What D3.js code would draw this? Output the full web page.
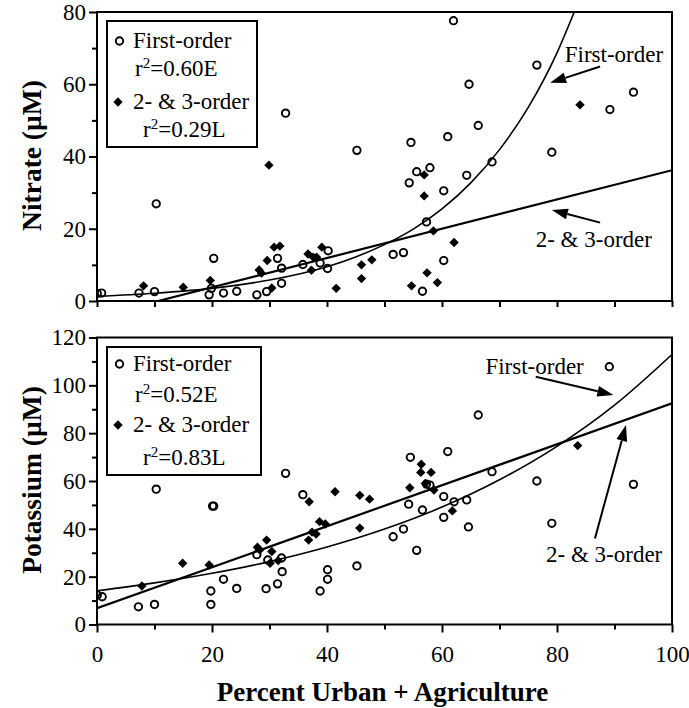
<!DOCTYPE html>
<html><head><meta charset="utf-8">
<script src="https://cdn.jsdelivr.net/npm/d3@7"></script>
<style>
body{margin:0;background:#fff}
svg{display:block}
svg text{font-family:"Liberation Serif","Tinos","Times New Roman","DejaVu Serif",serif !important;fill:#000}
</style>
</head><body>
<svg id="chart" width="689" height="708"></svg>
<script>
// ---------- data ----------
const xTicks = [0, 20, 40, 60, 80, 100];
const xMinorTicks = [10, 30, 50, 70, 90];
const nitrateTicks = [0, 20, 40, 60, 80];
const nitrateMinor = [10, 30, 50, 70];
const potassiumTicks = [0, 20, 40, 60, 80, 100, 120];
const potassiumMinor = [10, 30, 50, 70, 90, 110];

// Nitrate (µM) vs percent urban + agriculture
const nitrateFirstOrder = [
  [0.05,2.1],[0.8,2.2],[7.3,2.2],[10.0,2.6],[10.3,26.9],[20.3,11.8],[19.9,3.5],[19.5,1.7],
  [22.0,2.2],[24.3,2.7],[27.8,1.7],[29.5,2.6],[32.1,4.9],[31.4,11.8],[32.1,9.1],[32.8,52.0],
  [35.8,10.1],[38.8,10.5],[40.2,13.9],[40.1,9.0],[45.2,41.7],[51.5,12.9],[53.3,13.4],[54.6,43.9],
  [61.0,45.5],[66.3,48.6],[55.6,35.8],[57.9,36.9],[54.3,32.7],[60.3,30.5],[64.3,34.8],[68.7,38.5],
  [57.3,21.9],[60.3,11.2],[56.6,2.7],[62.0,77.6],[76.5,65.3],[64.7,60.0],[93.3,57.8],[89.2,53.0],
  [79.1,41.2]
];
const nitrateHigherOrder = [
  [8.1,4.2],[15.0,3.8],[19.7,5.7],[29.9,37.6],[30.8,14.9],[31.8,15.2],[29.6,11.2],[28.2,8.6],
  [28.6,7.7],[30.4,3.6],[36.7,13.0],[37.6,12.1],[38.2,12.1],[39.1,14.9],[37.3,8.5],[41.6,3.5],
  [46.0,10.0],[46.0,6.2],[47.8,11.4],[56.9,34.9],[56.9,29.1],[58.5,19.4],[62.1,16.2],[57.4,7.8],
  [59.2,5.1],[54.7,4.2],[84.0,54.3]
];
// fitted curves
const nitrateFirstFit = [[0,1.3],[10,2.15],[20,3.5],[30,5.8],[40,9.5],[45,12.2],[50,15.6],[55,19.9],
  [60,25.5],[65,32.7],[70,41.9],[75,53.6],[80,68.7],[83.0,80]];
const nitrateHigherFit = [[10.6,0],[100,36.2]];

// Potassium (µM)
const potassiumFirstOrder = [
  [0.05,12.3],[0.9,11.6],[7.2,7.4],[10.0,8.4],[10.3,56.6],[20.1,49.5],[20.3,49.5],[19.8,14.0],
  [19.8,8.4],[22.0,18.9],[24.3,15.1],[27.8,29.2],[29.4,15.0],[29.7,27.0],[31.4,17.0],[32.1,27.8],
  [32.2,22.1],[32.8,63.2],[35.8,54.3],[38.8,14.0],[40.1,22.9],[40.1,18.9],[45.2,24.5],[51.5,36.7],
  [53.3,39.9],[54.5,69.9],[61.0,72.3],[54.2,50.3],[57.3,58.7],[57.9,58.3],[56.6,47.9],[60.3,53.5],
  [62.1,51.3],[64.3,52.1],[68.7,63.9],[60.3,44.8],[64.6,40.8],[55.6,31.0],[66.3,87.6],[89.1,107.8],
  [76.5,60.0],[93.3,58.6],[79.1,42.3]
];
const potassiumHigherOrder = [
  [7.8,16.1],[14.9,25.6],[19.5,24.9],[27.9,32.3],[28.3,31.2],[29.5,35.3],[30.4,30.5],[30.1,25.6],
  [31.5,26.7],[36.9,51.3],[36.8,35.3],[37.4,38.6],[38.1,37.8],[38.7,43.0],[39.7,42.0],[41.4,55.5],
  [45.7,54.0],[47.4,52.4],[45.7,40.3],[54.4,57.2],[56.4,67.0],[56.3,63.6],[58.1,63.6],[57.1,59.0],
  [58.6,56.2],[61.8,47.5],[83.6,74.8]
];
const potassiumFirstFit = [[0,14.1],[10,17.4],[20,21.4],[30,26.3],[40,32.4],[50,39.9],[60,49.1],
  [70,60.5],[80,74.5],[90,91.7],[100,112.9]];
const potassiumHigherFit = [[0,6.8],[100,92.5]];

const nitrateLegend = ["First-order", "0.60E", "2- & 3-order", "0.29L"];
const potassiumLegend = ["First-order", "0.52E", "2- & 3-order", "0.83L"];

// annotations: [label, textX, textY, arrowFromX, arrowFromY, arrowToX, arrowToY]
const nitrateNotes = [
  ["First-order", 89.9, 66.2, 87.5, 64.9, 78.8, 60.4],
  ["2- & 3-order", 86.4, 14.9, 87.5, 21.7, 79.1, 25.2]
];
const potassiumNotes = [
  ["First-order", 76.1, 104.7, 76.3, 103.6, 89.8, 96.0],
  ["2- & 3-order", 88.2, 26.1, 86.6, 36.0, 92.0, 83.4]
];

// ---------- drawing ----------
const FONT = '"Liberation Serif","Tinos","Times New Roman","DejaVu Serif",serif';
const svg = d3.select("#chart");
const x = d3.scaleLinear().domain([0, 100]).range([97, 672]);

const panels = [
  {id: "n", title: "Nitrate (\u00B5M)", domain: [0, 80], range: [301, 12], ticks: nitrateTicks, minor: nitrateMinor,
   first: nitrateFirstOrder, higher: nitrateHigherOrder, firstFit: nitrateFirstFit, higherFit: nitrateHigherFit,
   legend: nitrateLegend, legendBox: [107, 21, 150, 126], legendRows: [48, 76, 109, 137], notes: nitrateNotes, xLabels: false},
  {id: "k", title: "Potassium (\u00B5M)", domain: [0, 120], range: [624.5, 337.5], ticks: potassiumTicks, minor: potassiumMinor,
   first: potassiumFirstOrder, higher: potassiumHigherOrder, firstFit: potassiumFirstFit, higherFit: potassiumHigherFit,
   legend: potassiumLegend, legendBox: [107, 347, 154, 128], legendRows: [371, 402, 432, 465], notes: potassiumNotes, xLabels: true}
];

const diamond = d3.symbol().type(d3.symbolSquare).size(44);
const TICKFS = 23, TXTFS = 23, TITLEFS = 27.5;

panels.forEach(p => {
  const y = d3.scaleLinear().domain(p.domain).range(p.range);
  const g = svg.append("g").attr("font-family", FONT);

  g.append("clipPath").attr("id", "clip-" + p.id)
    .append("rect").attr("x", x(0)).attr("y", y(p.domain[1])).attr("width", x(100) - x(0)).attr("height", y(0) - y(p.domain[1]));

  const ya = g.append("g").attr("transform", `translate(${x(0)},0)`)
    .call(d3.axisLeft(y).tickValues(p.ticks).tickSizeInner(8).tickSizeOuter(0).tickPadding(3).tickFormat(d3.format("d")));
  ya.attr("font-family", FONT).attr("font-size", TICKFS);
  ya.select(".domain").remove();
  ya.selectAll("line").attr("stroke-width", 2);
  const ym = g.append("g").attr("transform", `translate(${x(0)},0)`)
    .call(d3.axisLeft(y).tickValues(p.minor).tickSize(5).tickFormat(""));
  ym.select(".domain").remove();
  ym.selectAll("line").attr("stroke-width", 2);

  const xa = g.append("g").attr("transform", `translate(0,${y(0)})`)
    .call(d3.axisBottom(x).tickValues(p.xLabels ? xTicks : xTicks.concat(xMinorTicks)).tickSizeInner(p.xLabels ? 8 : 6).tickSizeOuter(0).tickPadding(13)
      .tickFormat(p.xLabels ? d3.format("d") : ""));
  xa.attr("font-family", FONT).attr("font-size", TICKFS);
  xa.select(".domain").remove();
  xa.selectAll("line").attr("stroke-width", 2);
  if (p.xLabels) {
    const xm = g.append("g").attr("transform", `translate(0,${y(0)})`)
      .call(d3.axisBottom(x).tickValues(xMinorTicks).tickSize(5).tickFormat(""));
    xm.select(".domain").remove();
    xm.selectAll("line").attr("stroke-width", 2);
  }

  g.append("rect").attr("x", x(0)).attr("y", y(p.domain[1]))
    .attr("width", x(100) - x(0)).attr("height", y(0) - y(p.domain[1]))
    .attr("fill", "none").attr("stroke", "#000").attr("stroke-width", 2);

  g.append("text")
    .attr("transform", `translate(31,${(y(0) + y(p.domain[1])) / 2 - 1}) rotate(-90)`)
    .attr("text-anchor", "middle").attr("dominant-baseline", "central")
    .style("font-size", TITLEFS + "px").style("font-weight", "bold").text(p.title);

  const line = d3.line().x(d => x(d[0])).y(d => y(d[1]));
  const plot = g.append("g").attr("clip-path", `url(#clip-${p.id})`);
  plot.append("path").datum(p.higherFit).attr("d", line)
    .attr("fill", "none").attr("stroke", "#000").attr("stroke-width", 2.2);
  plot.append("path").datum(p.firstFit).attr("d", line.curve(d3.curveMonotoneX))
    .attr("fill", "none").attr("stroke", "#000").attr("stroke-width", 1.6);

  plot.selectAll(".dia").data(p.higher).join("path")
    .attr("transform", d => `translate(${x(d[0])},${y(d[1])}) rotate(45)`)
    .attr("d", diamond).attr("fill", "#000");
  plot.selectAll(".cir").data(p.first).join("circle")
    .attr("cx", d => x(d[0])).attr("cy", d => y(d[1])).attr("r", 3.7)
    .attr("fill", "none").attr("stroke", "#000").attr("stroke-width", 1.9);

  const [lx, ly, lw, lh] = p.legendBox;
  const lg = g.append("g");
  lg.append("rect").attr("x", lx).attr("y", ly).attr("width", lw).attr("height", lh)
    .attr("fill", "#fff").attr("stroke", "#000").attr("stroke-width", 2);
  const r = p.legendRows;
  lg.append("circle").attr("cx", lx + 12.5).attr("cy", r[0] - 7).attr("r", 3.7)
    .attr("fill", "none").attr("stroke", "#000").attr("stroke-width", 1.9);
  lg.append("text").attr("x", lx + 26).attr("y", r[0]).style("font-size", TXTFS + "px").text(p.legend[0]);
  const t1 = lg.append("text").attr("x", lx + 28).attr("y", r[1]).style("font-size", TXTFS + "px");
  t1.append("tspan").text("r");
  t1.append("tspan").attr("dy", -8).style("font-size", "15px").text("2");
  t1.append("tspan").attr("dy", 8).text("=" + p.legend[1]);
  lg.append("path").attr("transform", `translate(${lx + 11},${r[2] - 7}) rotate(45)`).attr("d", diamond).attr("fill", "#000");
  lg.append("text").attr("x", lx + 26).attr("y", r[2]).style("font-size", TXTFS + "px").text(p.legend[2]);
  const t2 = lg.append("text").attr("x", lx + 36).attr("y", r[3]).style("font-size", TXTFS + "px");
  t2.append("tspan").text("r");
  t2.append("tspan").attr("dy", -8).style("font-size", "15px").text("2");
  t2.append("tspan").attr("dy", 8).text("=" + p.legend[3]);

  p.notes.forEach(n => {
    g.append("text").attr("x", x(n[1])).attr("y", y(n[2])).attr("text-anchor", "middle")
      .style("font-size", TXTFS + "px").text(n[0]);
    const x1 = x(n[3]), y1 = y(n[4]), x2 = x(n[5]), y2 = y(n[6]);
    const ang = Math.atan2(y2 - y1, x2 - x1);
    const hl = 16, hw = 5.5;
    const bx = x2 - hl * Math.cos(ang), by = y2 - hl * Math.sin(ang);
    g.append("line").attr("x1", x1).attr("y1", y1).attr("x2", bx).attr("y2", by)
      .attr("stroke", "#000").attr("stroke-width", 2);
    const px = -Math.sin(ang) * hw, py = Math.cos(ang) * hw;
    g.append("path").attr("d", `M${x2},${y2}L${bx + px},${by + py}L${bx - px},${by - py}Z`).attr("fill", "#000");
  });
});

svg.append("text").attr("font-family", FONT).attr("x", (x(0) + x(100)) / 2 - 2).attr("y", 701).attr("text-anchor", "middle")
  .style("font-size", "27px").style("font-weight", "bold").text("Percent Urban + Agriculture");
</script>
</body></html>
